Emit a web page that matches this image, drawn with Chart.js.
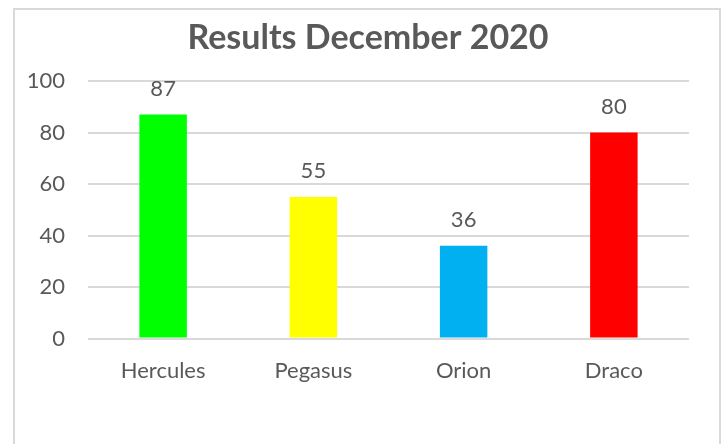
<!DOCTYPE html>
<html>
<head>
<meta charset="utf-8">
<script src="https://cdn.jsdelivr.net/npm/chart.js@4/dist/chart.umd.min.js"></script>
<style>
  html, body { margin: 0; padding: 0; background: #fff; }
  #wrap { width: 723px; height: 444px; }
</style>
</head>
<body>
<div id="wrap"><canvas id="results-chart" width="723" height="444"></canvas></div>
<script>
const chartTitle = "Results December 2020";
const categories = ["Hercules", "Pegasus", "Orion", "Draco"];
const results = [87, 55, 36, 80];
const barColors = ["#00ff00", "#ffff00", "#00b0f0", "#ff0000"];
const yTicks = [0, 20, 40, 60, 80, 100];

const textColor = "#595959";
const fontFamily = "Lato, 'Open Sans', sans-serif";

// outer frame + title, centred on the frame like the Excel chart
const framePlugin = {
  id: "frame",
  beforeDraw(chart) {
    const ctx = chart.ctx;
    ctx.save();
    ctx.strokeStyle = "#d9d9d9";
    ctx.lineWidth = 2;
    ctx.strokeRect(14, 9, 706, 440);
    ctx.fillStyle = textColor;
    ctx.font = "bold 34px " + fontFamily;
    ctx.textAlign = "center";
    ctx.textBaseline = "middle";
    ctx.fillText(chartTitle, 368, 38);
    ctx.restore();
  },
};

// value labels above each bar
const valueLabels = {
  id: "valueLabels",
  afterDatasetsDraw(chart) {
    const ctx = chart.ctx;
    const meta = chart.getDatasetMeta(0);
    ctx.save();
    ctx.fillStyle = textColor;
    ctx.font = "22px " + fontFamily;
    ctx.textAlign = "center";
    ctx.textBaseline = "middle";
    meta.data.forEach((bar, i) => {
      ctx.fillText(results[i], bar.x, bar.y - 26);
    });
    ctx.restore();
  },
};

const ctx = document.getElementById("results-chart").getContext("2d");

new Chart(ctx, {
  type: "bar",
  data: {
    labels: categories,
    datasets: [
      {
        data: results,
        backgroundColor: barColors,
        borderWidth: 0,
        barPercentage: 0.632,
        categoryPercentage: 0.5,
      },
    ],
  },
  options: {
    responsive: false,
    animation: false,
    layout: {
      padding: { left: 28, right: 34, top: 81, bottom: 41 },
    },
    plugins: {
      legend: { display: false },
      tooltip: { enabled: false },
      title: { display: false },
    },
    scales: {
      x: {
        grid: { display: false, drawTicks: false },
        border: { display: false },
        ticks: {
          color: textColor,
          font: { family: fontFamily, size: 22 },
          padding: 19,
        },
      },
      y: {
        min: 0,
        max: 100,
        afterFit(scale) {
          scale.width = 60;
        },
        afterBuildTicks(scale) {
          scale.ticks = yTicks.map((v) => ({ value: v }));
        },
        grid: { color: "#d9d9d9", lineWidth: 2, drawTicks: false },
        border: { display: false },
        ticks: {
          color: textColor,
          font: { family: fontFamily, size: 22 },
          padding: 23,
        },
      },
    },
  },
  plugins: [framePlugin, valueLabels],
});
</script>
</body>
</html>
